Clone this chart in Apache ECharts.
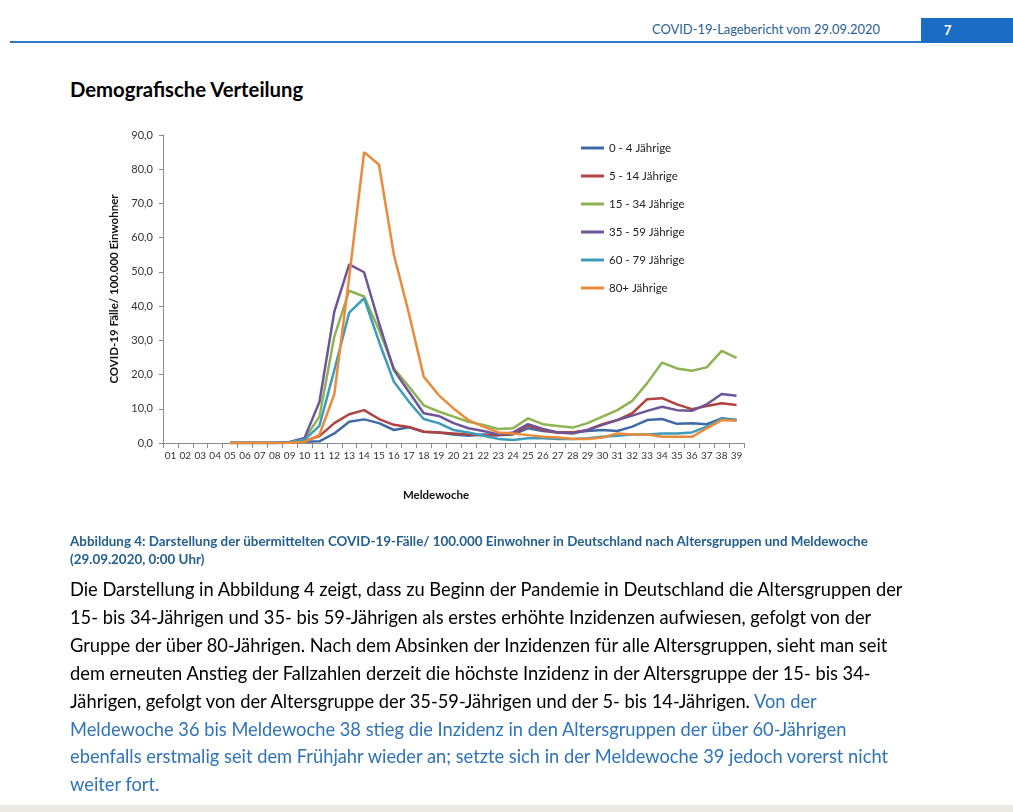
<!DOCTYPE html>
<html>
<head>
<meta charset="utf-8">
<script src="https://cdn.jsdelivr.net/npm/echarts@6/dist/echarts.min.js"></script>
<style>
  html, body { margin:0; padding:0; background:#fff; width:1013px; height:812px; overflow:hidden; font-family: Lato, "Open Sans", sans-serif; }
  #chart { position:absolute; left:0; top:0; width:1013px; height:812px; }
  .abs { position:absolute; white-space:nowrap; }
  #hdrline { position:absolute; left:10px; top:41px; width:911px; height:2px; background:#2f78c0; }
  #hdrbox { position:absolute; left:921px; top:18px; width:92px; height:25px; background:#1a6cc4; }
  #hdrnum { position:absolute; left:944px; top:22px; color:#fff; font-size:13px; font-weight:bold; }
  #hdrtxt { position:absolute; left:652px; top:21px; color:#2a5f92; font-size:12.9px; }
  #title { position:absolute; left:70px; top:77px; font-size:20.3px; font-weight:bold; color:#000; }
  #caption { position:absolute; left:70px; top:532px; font-size:13.4px; font-weight:bold; color:#235f8f; line-height:18px; }
  #body { position:absolute; left:70px; top:576px; font-size:18.3px; color:#000; line-height:27.9px; }
  .blue { color:#2f73b8; }
  #bottomstrip { position:absolute; left:0; top:805px; width:1013px; height:7px; background:#ece8e4; }
</style>
</head>
<body>
<div id="hdrline"></div>
<div id="hdrbox"></div>
<div id="hdrnum">7</div>
<div id="hdrtxt" class="abs">COVID-19-Lagebericht vom 29.09.2020</div>
<div id="title" class="abs">Demografische Verteilung</div>
<div id="chart"></div>
<div id="caption" class="abs">Abbildung 4: Darstellung der übermittelten COVID-19-Fälle/ 100.000 Einwohner in Deutschland nach Altersgruppen und Meldewoche<br>(29.09.2020, 0:00 Uhr)</div>
<div id="body" class="abs">Die Darstellung in Abbildung 4 zeigt, dass zu Beginn der Pandemie in Deutschland die Altersgruppen der<br>15- bis 34-Jährigen und 35- bis 59-Jährigen als erstes erhöhte Inzidenzen aufwiesen, gefolgt von der<br>Gruppe der über 80-Jährigen. Nach dem Absinken der Inzidenzen für alle Altersgruppen, sieht man seit<br>dem erneuten Anstieg der Fallzahlen derzeit die höchste Inzidenz in der Altersgruppe der 15- bis 34-<br>Jährigen, gefolgt von der Altersgruppe der 35-59-Jährigen und der 5- bis 14-Jährigen. <span class="blue">Von der</span><br><span class="blue">Meldewoche 36 bis Meldewoche 38 stieg die Inzidenz in den Altersgruppen der über 60-Jährigen</span><br><span class="blue">ebenfalls erstmalig seit dem Frühjahr wieder an; setzte sich in der Meldewoche 39 jedoch vorerst nicht</span><br><span class="blue">weiter fort.</span></div>
<div id="bottomstrip"></div>
<script>
const weeks = ['01','02','03','04','05','06','07','08','09','10','11','12','13','14','15','16','17','18','19','20','21','22','23','24','25','26','27','28','29','30','31','32','33','34','35','36','37','38','39'];
const seriesNames = ['0 - 4 Jährige','5 - 14 Jährige','15 - 34 Jährige','35 - 59 Jährige','60 - 79 Jährige','80+ Jährige'];
const age0to4 = [null,null,null,null,0,0,0,0,0.1,0.4,0.5,2.8,6.2,6.9,5.8,3.8,4.6,3.3,3.1,2.5,2.1,2.5,2.3,2.5,4.3,3.5,3.1,3.1,3.5,3.8,3.5,4.8,6.7,7.0,5.6,5.8,5.5,7.2,6.7];
const age5to14 = [null,null,null,null,0,0,0,0,0.1,0.6,2.0,5.8,8.4,9.6,7.0,5.3,4.7,3.3,3.1,2.8,2.5,2.3,2.3,2.8,5.1,3.8,3.1,3.1,3.8,5.5,6.7,8.7,12.8,13.1,11.3,9.9,10.8,11.6,11.1];
const age15to34 = [null,null,null,null,0,0,0,0,0.2,1.2,7.7,31.1,44.5,42.8,33.0,21.8,16.5,11.0,9.2,7.7,6.2,5.3,4.1,4.3,7.2,5.5,5.0,4.5,5.8,7.7,9.6,12.3,17.5,23.5,21.8,21.1,22.1,26.9,24.9];
const age35to59 = [null,null,null,null,0,0,0,0,0.3,1.5,12.0,38.4,52.2,49.9,35.0,21.3,15.0,8.7,7.9,5.8,4.3,3.5,2.5,3.1,5.5,4.1,3.1,2.8,3.8,5.3,6.7,8.0,9.4,10.6,9.6,9.4,11.3,14.3,13.8];
const age60to79 = [null,null,null,null,0,0,0,0,0.2,1.0,5.0,21.3,38.1,42.3,29.6,17.9,12.1,7.0,5.8,3.8,3.1,2.1,1.2,0.9,1.4,1.4,1.2,1.2,1.4,1.8,2.1,2.5,2.5,2.8,2.8,3.1,4.8,7.0,6.7];
const age80plus = [null,null,null,null,0,0,0,0,0.1,0.3,2.4,14.3,48.5,85.0,81.3,55.0,38.0,19.4,14.0,10.1,6.7,4.8,3.1,2.8,2.3,1.8,1.6,1.2,1.2,1.6,2.8,2.5,2.5,1.8,1.8,1.8,4.3,6.7,6.5];
const yAxisName = 'COVID-19 Fälle/ 100.000 Einwohner';
const xAxisName = 'Meldewoche';

const colors = ['#3f6aa8','#b0423f','#8db353','#6e5499','#3e9cba','#ea8a3b'];
const allData = [age0to4, age5to14, age15to34, age35to59, age60to79, age80plus];

const chart = echarts.init(document.getElementById('chart'), null, {renderer:'canvas'});
chart.setOption({
  animation: false,
  backgroundColor: 'transparent',
  color: colors,
  textStyle: { fontFamily: 'Lato, "Open Sans", sans-serif' },
  grid: { left: 163, top: 135, right: 269, bottom: 369, containLabel: false },
  legend: {
    orient: 'vertical',
    left: 576,
    top: 136,
    icon: 'rect',
    itemWidth: 23,
    itemHeight: 3,
    itemGap: 14,
    textStyle: { fontSize: 11.5, color: '#222', lineHeight: 14 },
    data: seriesNames
  },
  xAxis: {
    type: 'category',
    data: weeks,
    boundaryGap: true,
    name: xAxisName,
    nameLocation: 'middle',
    nameGap: 46,
    nameTextStyle: { fontSize: 11.5, fontWeight: 'bold', color: '#111', padding: [0, 35, 0, 0] },
    axisLine: { lineStyle: { color: '#8a8a8a', width: 1 } },
    axisTick: { show: true, length: 5, lineStyle: { color: '#8a8a8a' } },
    axisLabel: { fontSize: 10, color: '#333', margin: 8, interval: 0 },
    splitLine: { show: false }
  },
  yAxis: {
    type: 'value',
    min: 0, max: 90, interval: 10,
    name: yAxisName,
    nameLocation: 'middle',
    nameGap: 35,
    nameRotate: 90,
    nameTextStyle: { fontSize: 11.5, fontWeight: 'bold', color: '#111' },
    axisLine: { show: true, lineStyle: { color: '#8a8a8a', width: 1 } },
    axisTick: { show: true, length: 4, lineStyle: { color: '#8a8a8a' } },
    axisLabel: { fontSize: 11, color: '#333', margin: 10, formatter: v => v.toFixed(1).replace('.', ',') },
    splitLine: { show: false }
  },
  series: seriesNames.map((n, i) => ({
    name: n,
    type: 'line',
    data: allData[i],
    showSymbol: false,
    symbol: 'none',
    lineStyle: { width: 2.5, color: colors[i] },
    itemStyle: { color: colors[i] },
    connectNulls: false
  }))
});
</script>
</body>
</html>
